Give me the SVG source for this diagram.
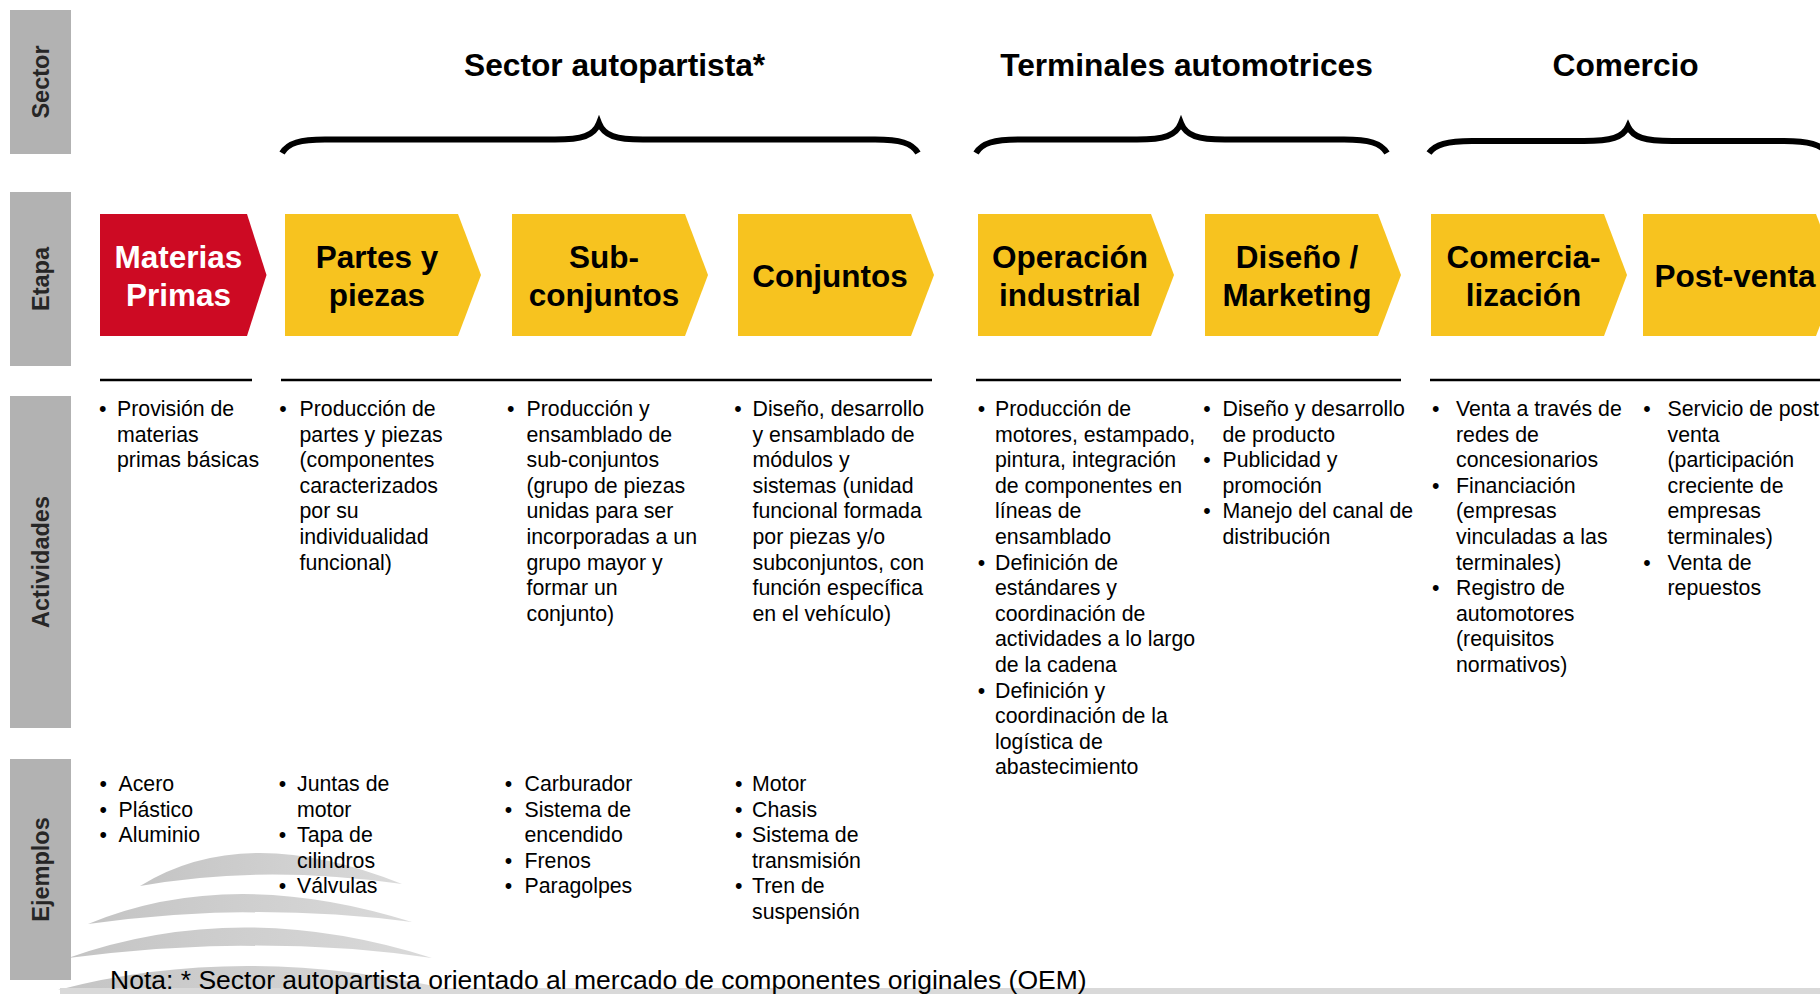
<svg xmlns="http://www.w3.org/2000/svg" width="1820" height="994" viewBox="0 0 1820 994">
<defs>
<style>
.bar{fill:#b2b2b2}
.lbl{font-family:"Liberation Sans",Arial,sans-serif;font-weight:bold;font-size:23.5px;fill:#262626;text-anchor:middle}
.ttl{font-family:"Liberation Sans",Arial,sans-serif;font-weight:bold;font-size:31.7px;fill:#000;text-anchor:middle}
.cy{fill:#F7C31F}
.cr{fill:#CD0A23}
.ct{font-family:"Liberation Sans",Arial,sans-serif;font-weight:bold;font-size:31.5px;fill:#000;text-anchor:middle}
.ctw{fill:#fff}
.brace{fill:none;stroke:#000;stroke-width:6}
.sep{stroke:#000;stroke-width:2.5}
.t{font-family:"Liberation Sans",Arial,sans-serif;font-size:21.3px;fill:#000}
.b{font-family:"Liberation Sans",Arial,sans-serif;font-size:21.3px;fill:#000;text-anchor:middle}
.note{font-family:"Liberation Sans",Arial,sans-serif;font-size:26.5px;fill:#000}
.wm{fill:url(#wmg)}
</style>
<linearGradient id="wmg" x1="0" y1="0" x2="1" y2="0">
<stop offset="0" stop-color="#c4c4c4"/>
<stop offset="1" stop-color="#dadada"/>
</linearGradient>
</defs>
<rect width="1820" height="994" fill="#fff"/>

<!-- watermark -->
<g id="watermark">
<path class="wm" d="M140,886 Q245,821 402,884 Q262,864 140,886 Z"/>
<path class="wm" d="M88,924 Q230,865 412,922 Q252,901 88,924 Z"/>
<path class="wm" d="M68,958 Q240,897 432,958 Q262,933 68,958 Z"/>
<path class="wm" d="M58,990 Q240,942 452,990 Z"/>
<rect x="60" y="988" width="1760" height="6" fill="#d9d9d9"/>
</g>

<!-- row labels -->
<g id="label-sector"><rect class="bar" x="10" y="10" width="61" height="144"/><text class="lbl" transform="translate(49,82) rotate(-90)">Sector</text></g>
<g id="label-etapa"><rect class="bar" x="10" y="192" width="61" height="174"/><text class="lbl" transform="translate(49,279) rotate(-90)">Etapa</text></g>
<g id="label-actividades"><rect class="bar" x="10" y="396" width="61" height="332"/><text class="lbl" transform="translate(49,562) rotate(-90)">Actividades</text></g>
<g id="label-ejemplos"><rect class="bar" x="10" y="759" width="61" height="221"/><text class="lbl" transform="translate(49,869.5) rotate(-90)">Ejemplos</text></g>

<!-- sector titles and braces -->
<g id="sector-autopartista">
<text class="ttl" x="614.6" y="76">Sector autopartista*</text>
<path class="brace" d="M282,153 C288,143 300,139.5 325,139.5 L555,139.5 C582,139.5 594,136 599,123 C604,136 616,139.5 643,139.5 L875,139.5 C900,139.5 912,143 918,153"/>
</g>
<g id="sector-terminales">
<text class="ttl" x="1186.5" y="76">Terminales automotrices</text>
<path class="brace" d="M976,153 C982,143 994,139.5 1019,139.5 L1137,139.5 C1164,139.5 1176,136 1181,123 C1186,136 1198,139.5 1225,139.5 L1344,139.5 C1369,139.5 1381,143 1387,153"/>
</g>
<g id="sector-comercio">
<text class="ttl" x="1625.6" y="76">Comercio</text>
<path class="brace" d="M1429,153 C1435,144.5 1447,141 1472,141 L1584,141 C1611,141 1623,137.5 1628,126.5 C1633,137.5 1645,141 1672,141 L1784,141 C1809,141 1821,144.5 1827,153"/>
</g>

<!-- stages -->
<g id="stage-materias"><path class="cr" d="M100,214 H247 L266.5,275 L247,336 H100 Z"/><text class="ct ctw" x="178.5" y="268">Materias</text><text class="ct ctw" x="178.5" y="306">Primas</text></g>
<g id="stage-partes"><path class="cy" d="M285,214 H458 L481,275 L458,336 H285 Z"/><text class="ct" x="377" y="268">Partes y</text><text class="ct" x="377" y="306">piezas</text></g>
<g id="stage-subconjuntos"><path class="cy" d="M512,214 H685 L708,275 L685,336 H512 Z"/><text class="ct" x="604" y="268">Sub-</text><text class="ct" x="604" y="306">conjuntos</text></g>
<g id="stage-conjuntos"><path class="cy" d="M738,214 H911 L934,275 L911,336 H738 Z"/><text class="ct" x="830" y="287">Conjuntos</text></g>
<g id="stage-operacion"><path class="cy" d="M978,214 H1151 L1174,275 L1151,336 H978 Z"/><text class="ct" x="1070" y="268">Operación</text><text class="ct" x="1070" y="306">industrial</text></g>
<g id="stage-diseno"><path class="cy" d="M1205,214 H1378 L1401,275 L1378,336 H1205 Z"/><text class="ct" x="1297" y="268">Diseño /</text><text class="ct" x="1297" y="306">Marketing</text></g>
<g id="stage-comercializacion"><path class="cy" d="M1431,214 H1604 L1627,275 L1604,336 H1431 Z"/><text class="ct" x="1523.5" y="268">Comercia-</text><text class="ct" x="1523.5" y="306">lización</text></g>
<g id="stage-postventa"><path class="cy" d="M1643,214 H1816 L1839,275 L1816,336 H1643 Z"/><text class="ct" x="1735" y="287">Post-venta</text></g>

<!-- separators -->
<g id="separators">
<line class="sep" x1="100" y1="380" x2="252" y2="380"/>
<line class="sep" x1="281" y1="380" x2="932" y2="380"/>
<line class="sep" x1="976" y1="380" x2="1401" y2="380"/>
<line class="sep" x1="1430" y1="380" x2="1820" y2="380"/>
</g>

<!-- activities -->
<g id="act-materias">
<text class="b" x="102.7" y="416">•</text>
<text class="t"><tspan x="117" y="416">Provisión de</tspan><tspan x="117" y="441.6">materias</tspan><tspan x="117" y="467.2">primas básicas</tspan></text>
</g>
<g id="act-partes">
<text class="b" x="283" y="416">•</text>
<text class="t"><tspan x="299.5" y="416">Producción de</tspan><tspan x="299.5" y="441.6">partes y piezas</tspan><tspan x="299.5" y="467.2">(componentes</tspan><tspan x="299.5" y="492.8">caracterizados</tspan><tspan x="299.5" y="518.4">por su</tspan><tspan x="299.5" y="544">individualidad</tspan><tspan x="299.5" y="569.6">funcional)</tspan></text>
</g>
<g id="act-subconjuntos">
<text class="b" x="510.7" y="416">•</text>
<text class="t"><tspan x="526.5" y="416">Producción y</tspan><tspan x="526.5" y="441.6">ensamblado de</tspan><tspan x="526.5" y="467.2">sub-conjuntos</tspan><tspan x="526.5" y="492.8">(grupo de piezas</tspan><tspan x="526.5" y="518.4">unidas para ser</tspan><tspan x="526.5" y="544">incorporadas a un</tspan><tspan x="526.5" y="569.6">grupo mayor y</tspan><tspan x="526.5" y="595.2">formar un</tspan><tspan x="526.5" y="620.8">conjunto)</tspan></text>
</g>
<g id="act-conjuntos">
<text class="b" x="738" y="416">•</text>
<text class="t"><tspan x="752.5" y="416">Diseño, desarrollo</tspan><tspan x="752.5" y="441.6">y ensamblado de</tspan><tspan x="752.5" y="467.2">módulos y</tspan><tspan x="752.5" y="492.8">sistemas (unidad</tspan><tspan x="752.5" y="518.4">funcional formada</tspan><tspan x="752.5" y="544">por piezas y/o</tspan><tspan x="752.5" y="569.6">subconjuntos, con</tspan><tspan x="752.5" y="595.2">función específica</tspan><tspan x="752.5" y="620.8">en el vehículo)</tspan></text>
</g>
<g id="act-operacion">
<text class="b" x="981.4" y="416">•</text>
<text class="b" x="981.4" y="569.6">•</text>
<text class="b" x="981.4" y="697.6">•</text>
<text class="t"><tspan x="995" y="416">Producción de</tspan><tspan x="995" y="441.6">motores, estampado,</tspan><tspan x="995" y="467.2">pintura, integración</tspan><tspan x="995" y="492.8">de componentes en</tspan><tspan x="995" y="518.4">líneas de</tspan><tspan x="995" y="544">ensamblado</tspan><tspan x="995" y="569.6">Definición de</tspan><tspan x="995" y="595.2">estándares y</tspan><tspan x="995" y="620.8">coordinación de</tspan><tspan x="995" y="646.4">actividades a lo largo</tspan><tspan x="995" y="672">de la cadena</tspan><tspan x="995" y="697.6">Definición y</tspan><tspan x="995" y="723.2">coordinación de la</tspan><tspan x="995" y="748.8">logística de</tspan><tspan x="995" y="774.4">abastecimiento</tspan></text>
</g>
<g id="act-diseno">
<text class="b" x="1207" y="416">•</text>
<text class="b" x="1207" y="467.2">•</text>
<text class="b" x="1207" y="518.4">•</text>
<text class="t"><tspan x="1222.5" y="416">Diseño y desarrollo</tspan><tspan x="1222.5" y="441.6">de producto</tspan><tspan x="1222.5" y="467.2">Publicidad y</tspan><tspan x="1222.5" y="492.8">promoción</tspan><tspan x="1222.5" y="518.4">Manejo del canal de</tspan><tspan x="1222.5" y="544">distribución</tspan></text>
</g>
<g id="act-comercializacion">
<text class="b" x="1435.8" y="416">•</text>
<text class="b" x="1435.8" y="492.8">•</text>
<text class="b" x="1435.8" y="595.2">•</text>
<text class="t"><tspan x="1456" y="416">Venta a través de</tspan><tspan x="1456" y="441.6">redes de</tspan><tspan x="1456" y="467.2">concesionarios</tspan><tspan x="1456" y="492.8">Financiación</tspan><tspan x="1456" y="518.4">(empresas</tspan><tspan x="1456" y="544">vinculadas a las</tspan><tspan x="1456" y="569.6">terminales)</tspan><tspan x="1456" y="595.2">Registro de</tspan><tspan x="1456" y="620.8">automotores</tspan><tspan x="1456" y="646.4">(requisitos</tspan><tspan x="1456" y="672">normativos)</tspan></text>
</g>
<g id="act-postventa">
<text class="b" x="1647" y="416">•</text>
<text class="b" x="1647" y="569.6">•</text>
<text class="t"><tspan x="1667.5" y="416">Servicio de post</tspan><tspan x="1667.5" y="441.6">venta</tspan><tspan x="1667.5" y="467.2">(participación</tspan><tspan x="1667.5" y="492.8">creciente de</tspan><tspan x="1667.5" y="518.4">empresas</tspan><tspan x="1667.5" y="544">terminales)</tspan><tspan x="1667.5" y="569.6">Venta de</tspan><tspan x="1667.5" y="595.2">repuestos</tspan></text>
</g>

<!-- examples -->
<g id="ej-materias">
<text class="b"><tspan x="103.3" y="791">•</tspan><tspan x="103.3" y="816.6">•</tspan><tspan x="103.3" y="842.2">•</tspan></text>
<text class="t"><tspan x="118.5" y="791">Acero</tspan><tspan x="118.5" y="816.6">Plástico</tspan><tspan x="118.5" y="842.2">Aluminio</tspan></text>
</g>
<g id="ej-partes">
<text class="b"><tspan x="282.6" y="791">•</tspan><tspan x="282.6" y="842.2">•</tspan><tspan x="282.6" y="893.4">•</tspan></text>
<text class="t"><tspan x="297" y="791">Juntas de</tspan><tspan x="297" y="816.6">motor</tspan><tspan x="297" y="842.2">Tapa de</tspan><tspan x="297" y="867.8">cilindros</tspan><tspan x="297" y="893.4">Válvulas</tspan></text>
</g>
<g id="ej-subconjuntos">
<text class="b"><tspan x="508.4" y="791">•</tspan><tspan x="508.4" y="816.6">•</tspan><tspan x="508.4" y="867.8">•</tspan><tspan x="508.4" y="893.4">•</tspan></text>
<text class="t"><tspan x="524.5" y="791">Carburador</tspan><tspan x="524.5" y="816.6">Sistema de</tspan><tspan x="524.5" y="842.2">encendido</tspan><tspan x="524.5" y="867.8">Frenos</tspan><tspan x="524.5" y="893.4">Paragolpes</tspan></text>
</g>
<g id="ej-conjuntos">
<text class="b"><tspan x="738.8" y="791">•</tspan><tspan x="738.8" y="816.6">•</tspan><tspan x="738.8" y="842.2">•</tspan><tspan x="738.8" y="893.4">•</tspan></text>
<text class="t"><tspan x="752" y="791">Motor</tspan><tspan x="752" y="816.6">Chasis</tspan><tspan x="752" y="842.2">Sistema de</tspan><tspan x="752" y="867.8">transmisión</tspan><tspan x="752" y="893.4">Tren de</tspan><tspan x="752" y="919">suspensión</tspan></text>
</g>

<g id="nota"><text class="note" x="110" y="989">Nota: * Sector autopartista orientado al mercado de componentes originales (OEM)</text></g>
</svg>
